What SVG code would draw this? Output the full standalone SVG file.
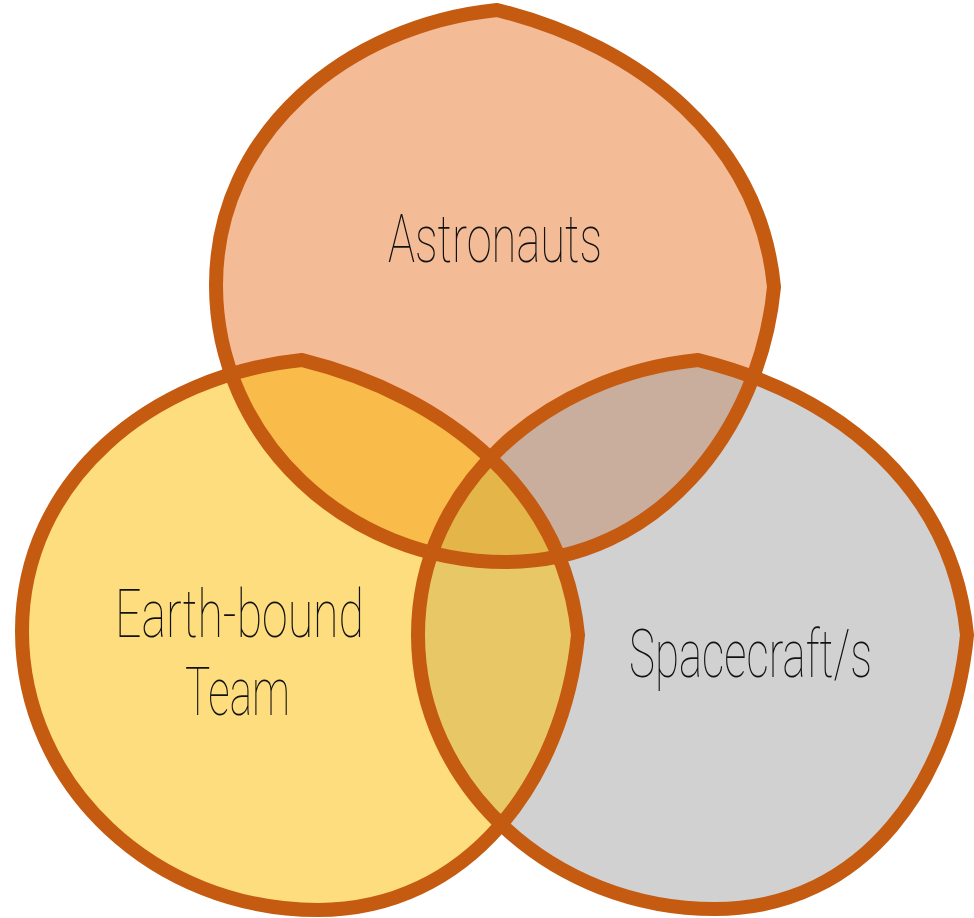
<svg xmlns="http://www.w3.org/2000/svg" width="974" height="918" viewBox="0 0 974 918">
<style>
.lbl{font-family:Roboto,"Open Sans","Liberation Sans",sans-serif;font-weight:100;font-size:66px;fill:#111}
.ring{fill:none;stroke:#C55A11;stroke-width:14;stroke-linejoin:miter}
</style>
<defs>
<path id="pTop" d="M497,10 C642,46 760,142 774,287 C760,432 656,562 506,562 C346,562 216,438 216,285 C216,133 347,25 497,10 Z"/>
<path id="pLeft" d="M302,360 C447,396 564,491 578,635 C564,780 468,910 318,910 C155,910 22,786 22,631 C22,480 152,375 302,360 Z"/>
<path id="pRight" d="M698,360 C843,396 953,490 967,635 C953,780 865,909 715,909 C553,909 418,786 418,635 C418,484 548,375 698,360 Z"/>
<clipPath id="cTop"><use href="#pTop"/></clipPath>
<clipPath id="cLeft"><use href="#pLeft"/></clipPath>
<clipPath id="cRight"><use href="#pRight"/></clipPath>
</defs>
<rect width="974" height="918" fill="#fff"/>
<g id="fills">
<use href="#pTop" fill="#F4BB97"/>
<use href="#pLeft" fill="#FEDD7F"/>
<use href="#pRight" fill="#D1D1D1"/>
<use href="#pLeft" fill="#F9BC4B" clip-path="url(#cTop)"/>
<use href="#pRight" fill="#CAAE9D" clip-path="url(#cTop)"/>
<use href="#pRight" fill="#E8C767" clip-path="url(#cLeft)"/>
<g clip-path="url(#cTop)"><use href="#pRight" fill="#E4B64A" clip-path="url(#cLeft)"/></g>
</g>
<g id="node-astronauts">
<use href="#pTop" class="ring"/>
<text class="lbl" transform="translate(388,262) scale(0.65,1)" textLength="329.2" lengthAdjust="spacingAndGlyphs">Astronauts</text>
</g>
<g id="node-earth">
<use href="#pLeft" class="ring"/>
<text class="lbl" transform="translate(115,637) scale(0.65,1)" textLength="383.1" lengthAdjust="spacingAndGlyphs">Earth-bound</text>
<text class="lbl" transform="translate(185,715) scale(0.65,1)" textLength="161.5" lengthAdjust="spacingAndGlyphs">Team</text>
</g>
<g id="node-spacecraft">
<use href="#pRight" class="ring"/>
<text class="lbl" transform="translate(629,677) scale(0.65,1)" textLength="373.8" lengthAdjust="spacingAndGlyphs">Spacecraft/s</text>
</g>
<g id="connectors"/>
</svg>
